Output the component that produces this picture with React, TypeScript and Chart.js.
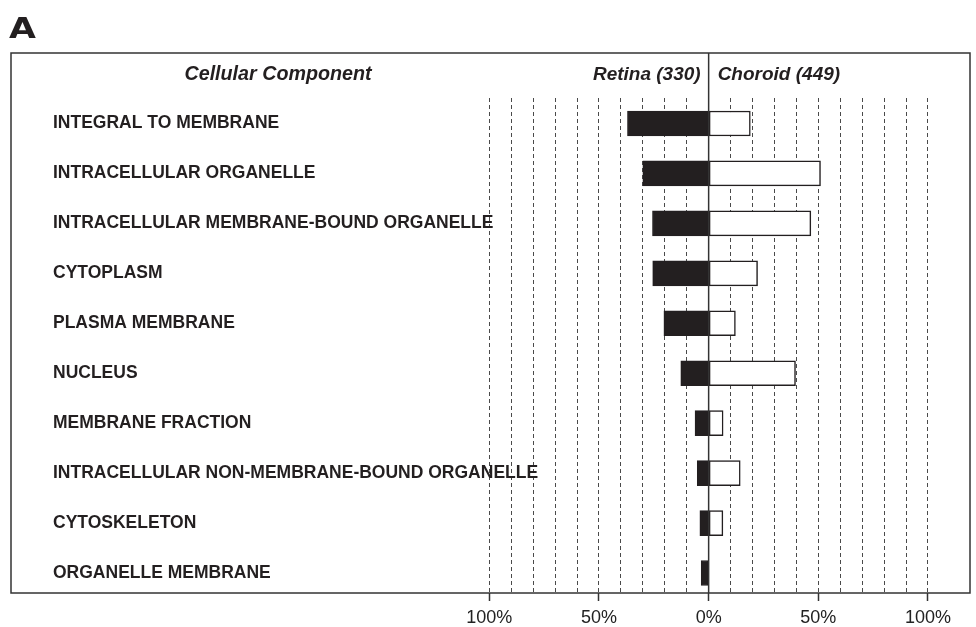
import React, { useEffect, useRef } from 'react';
import { Chart, registerables } from 'chart.js';

Chart.register(...registerables);

const CATEGORIES = [
  'INTEGRAL TO MEMBRANE',
  'INTRACELLULAR ORGANELLE',
  'INTRACELLULAR MEMBRANE-BOUND ORGANELLE',
  'CYTOPLASM',
  'PLASMA MEMBRANE',
  'NUCLEUS',
  'MEMBRANE FRACTION',
  'INTRACELLULAR NON-MEMBRANE-BOUND ORGANELLE',
  'CYTOSKELETON',
  'ORGANELLE MEMBRANE',
];
// percentages (Retina drawn to the left, Choroid to the right)
const RETINA = [37, 30, 25.6, 25.5, 20.4, 12.7, 6.2, 5.2, 4.0, 3.4];
const CHOROID = [19, 51, 46.6, 22.3, 12.2, 39.6, 6.6, 14.4, 6.5, 0];
const X_TICKS = [-100, -90, -80, -70, -60, -50, -40, -30, -20, -10, 0, 10, 20, 30, 40, 50, 60, 70, 80, 90, 100];
const LABELED_TICKS = [-100, -50, 0, 50, 100];
const PANEL_LABEL = 'A';
const HEADER_TITLE = 'Cellular Component';
const RETINA_TITLE = 'Retina (330)';
const CHOROID_TITLE = 'Choroid (449)';

const FONT = "'Liberation Sans', Arial, Helvetica, sans-serif";
const INK = '#231f20';

const framePlugin = {
  id: 'frame',
  afterDraw(chart: any) {
    const { ctx, chartArea } = chart;
    const xs = chart.scales.x;
    const boxTop = 53;
    const boxLeft = 11;
    const x0 = xs.getPixelForValue(0);
    ctx.save();
    ctx.strokeStyle = '#333';
    ctx.lineWidth = 1.5;
    ctx.setLineDash([]);
    ctx.strokeRect(boxLeft, boxTop, chartArea.right - boxLeft, chartArea.bottom - boxTop);
    ctx.beginPath();
    ctx.moveTo(x0, boxTop);
    ctx.lineTo(x0, chartArea.bottom);
    ctx.stroke();
    ctx.fillStyle = INK;
    ctx.font = `italic bold 19.7px ${FONT}`;
    ctx.textBaseline = 'middle';
    ctx.textAlign = 'center';
    ctx.fillText(HEADER_TITLE, 278, 75);
    ctx.font = `italic bold 19px ${FONT}`;
    ctx.textAlign = 'right';
    ctx.fillText(RETINA_TITLE, x0 - 8, 75);
    ctx.textAlign = 'left';
    ctx.fillText(CHOROID_TITLE, x0 + 9, 75);
    // panel letter (wide, heavy)
    ctx.save();
    ctx.translate(9, 38);
    ctx.scale(1.2, 1);
    ctx.font = `bold 29px 'DejaVu Sans', ${FONT}`;
    ctx.textBaseline = 'alphabetic';
    ctx.textAlign = 'left';
    ctx.fillText(PANEL_LABEL, 0, 0);
    ctx.restore();
    ctx.restore();
  },
};

export default function App() {
  const ref = useRef<HTMLCanvasElement>(null);
  useEffect(() => {
    if (!ref.current) return;
    const chart = new Chart(ref.current, {
      type: 'bar',
      data: {
        datasets: [
          {
            label: 'Retina',
            data: RETINA.map((v, i) => ({ x: -v, y: i })),
            backgroundColor: INK,
            borderColor: INK,
            borderWidth: 1,
            borderSkipped: false,
            barThickness: 25,
            grouped: false,
          } as any,
          {
            label: 'Choroid',
            data: CHOROID.map((v, i) => ({ x: v, y: i })),
            backgroundColor: '#ffffff',
            borderColor: INK,
            borderWidth: 1.5,
            borderSkipped: false,
            barThickness: 25,
            grouped: false,
          } as any,
        ],
      },
      options: {
        indexAxis: 'y',
        animation: false,
        responsive: false,
        maintainAspectRatio: false,
        layout: { padding: { left: 53, right: 6, top: 98, bottom: 0 } },
        plugins: { legend: { display: false }, tooltip: { enabled: false } },
        scales: {
          x: {
            type: 'linear',
            position: 'bottom',
            min: -298.9,
            max: 119.15,
            bounds: 'data',
            afterBuildTicks: (s: any) => {
              s.ticks = X_TICKS.map((v) => ({ value: v }));
            },
            afterFit: (s: any) => {
              s.height = 34;
            },
            ticks: {
              autoSkip: false,
              maxRotation: 0,
              padding: 6,
              color: '#222',
              font: { family: FONT, size: 18 },
              callback: (v: any) => (LABELED_TICKS.includes(Number(v)) ? Math.abs(Number(v)) + '%' : ''),
            },
            grid: {
              color: (c: any) => (c.tick && c.tick.value === 0 ? 'rgba(0,0,0,0)' : '#4a4a4a'),
              lineWidth: 1,
              drawTicks: true,
              tickLength: 8,
              tickWidth: 1.5,
              tickColor: (c: any) => (c.tick && LABELED_TICKS.includes(c.tick.value) ? '#333' : 'rgba(0,0,0,0)'),
            },
            border: { display: false, dash: [4, 3] },
          },
          y: {
            type: 'linear',
            reverse: true,
            offset: false,
            bounds: 'data',
            grace: 0,
            min: -0.51,
            max: 9.4,
            afterBuildTicks: (s: any) => {
              s.ticks = CATEGORIES.map((_, i) => ({ value: i }));
            },
            afterFit: (s: any) => {
              s.width = 0;
            },
            ticks: {
              mirror: true,
              padding: 0,
              autoSkip: false,
              color: INK,
              font: { family: FONT, size: 17.5, weight: 'bold' },
              callback: (v: any) => CATEGORIES[Number(v)] ?? '',
            },
            grid: { display: false, offset: false },
            border: { display: false },
          },
        },
      } as any,
      plugins: [framePlugin],
    });
    return () => chart.destroy();
  }, []);
  return (
    <div style={{ position: 'absolute', left: 0, top: 0, width: 976, height: 627, background: '#fff' }}>
      <canvas ref={ref} width={976} height={627} style={{ display: 'block' }} />
    </div>
  );
}
